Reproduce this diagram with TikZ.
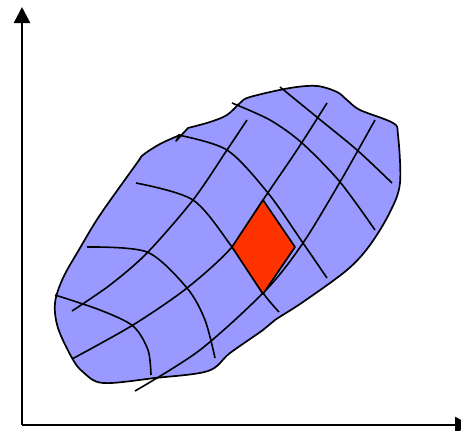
\documentclass[tikz,border=0pt]{standalone}
\usetikzlibrary{arrows.meta}
\definecolor{blobfill}{HTML}{9999FF}
\definecolor{cellred}{HTML}{FF3300}
\tikzset{
  axis/.style={line width=2.4pt, -{Triangle[length=16pt,width=16pt]}},
  blob/.style={fill=blobfill, draw=black, line width=1.7pt, line join=round},
  gridline/.style={line width=1.6pt},
  cell/.style={fill=cellred, draw=black, line width=1.7pt, line join=round}
}
\begin{document}
\begin{tikzpicture}[x=1pt,y=-1pt]
    \useasboundingbox (0,0) rectangle (461,431);
    \coordinate (origin) at (22,425);
    \coordinate (ytip) at (22,7);
    \coordinate (xtip) at (471,425);
    \draw[axis] (origin) -- (ytip);
    \draw[axis] (origin) -- (xtip);
    % region
    \draw[blob] plot[smooth, tension=0.55] coordinates {
      (180,135) (160,144) (143,155) (137,163) (100,215) (80,248) (63,278)
      (55,303) (58,328) (72,358) (83,372) (103,383) (155,378) (208,371)
      (230,353) (263,330) (275,320) (303,302) (347,270) (370,245) (390,212)
      (400,183) (398,135) (393,123) (360,110) (347,100) (337,92) (317,86)
      (290,88) (250,97) (240,103) (227,115) (210,122) (188,128)}
      -- (176,141) -- cycle;
    % curvilinear grid
    \draw[gridline] plot[smooth] coordinates {(72,311) (110,285) (147,253) (193,200) (227,150) (247,120)};
    \draw[gridline] plot[smooth] coordinates {(72,359) (133,325) (187,288) (232,247) (263,200) (297,150) (327,103)};
    \draw[gridline] plot[smooth] coordinates {(135,391) (200,350) (266,290) (303,243) (340,182) (375,120)};
    \draw[gridline] plot[smooth] coordinates {(280,87) (318,118) (357,150) (392,183)};
    \draw[gridline] plot[smooth] coordinates {(232,103) (270,120) (302,143) (340,182) (375,230)};
    \draw[gridline] plot[smooth] coordinates {(178,135) (227,150) (268,193) (303,243) (327,278)};
    \draw[gridline] plot[smooth] coordinates {(136,183) (193,200) (232,247) (263,293) (279,312)};
    \draw[gridline] plot[smooth] coordinates {(87,247) (147,252) (187,288) (205,320) (215,358)};
    \draw[gridline] plot[smooth] coordinates {(55,295) (100,310) (133,326) (148,350) (151,375)};
    % highlighted cell
    \draw[cell] (263,200) -- (295,247) -- (263,294) -- (232,247) -- cycle;
\end{tikzpicture}
\end{document}
